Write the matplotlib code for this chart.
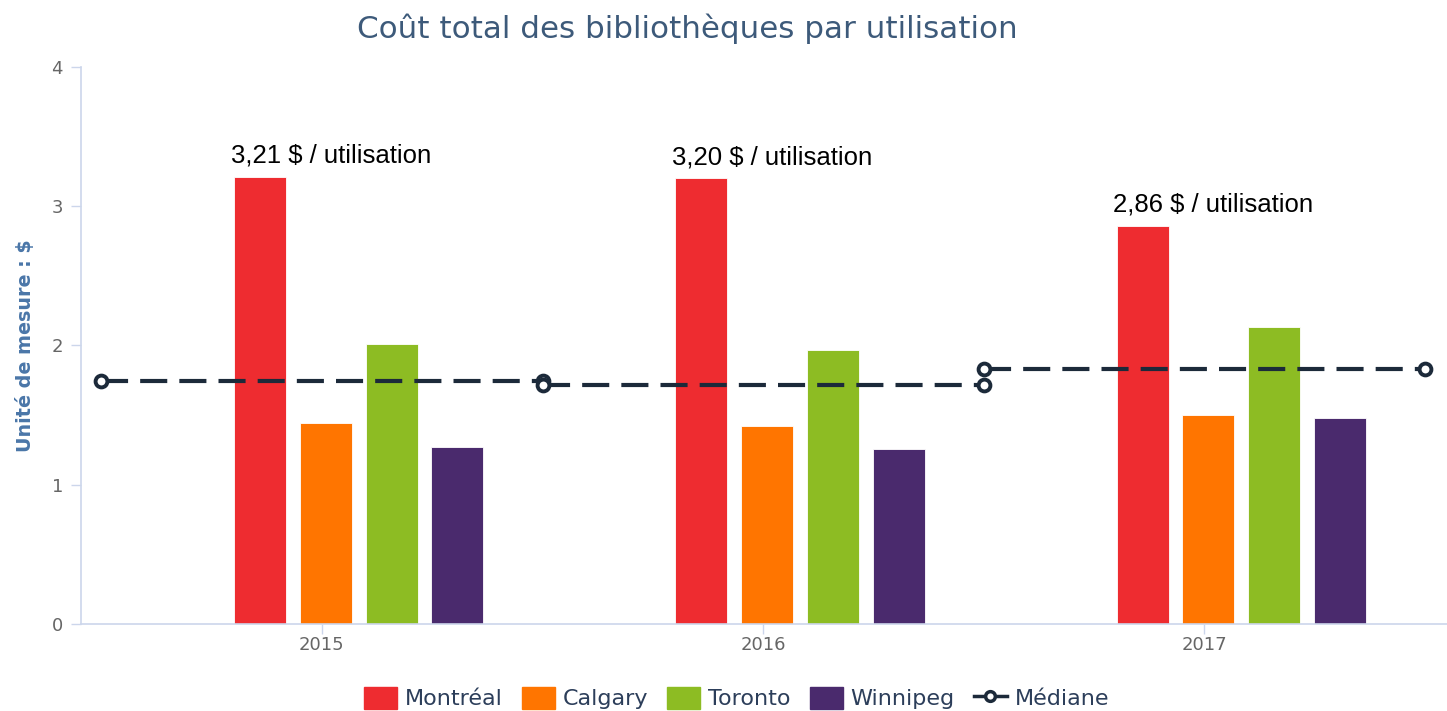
import numpy as np
import matplotlib.pyplot as plt
from matplotlib.lines import Line2D
from matplotlib.patches import Patch

plt.rcParams['font.family'] = ['DejaVu Sans']

# data
years = ['2015', '2016', '2017']
montreal = [3.21, 3.20, 2.86]
calgary = [1.44, 1.42, 1.50]
toronto = [2.01, 1.97, 2.13]
winnipeg = [1.27, 1.26, 1.48]
mediane = [1.745, 1.715, 1.83]
labels = ['3,21 $ / utilisation', '3,20 $ / utilisation', '2,86 $ / utilisation']

series = [('Montréal', montreal, '#ee2c30'),
          ('Calgary', calgary, '#ff7500'),
          ('Toronto', toronto, '#8dbc23'),
          ('Winnipeg', winnipeg, '#4a2a6d')]

fig = plt.figure(figsize=(14.47, 7.11), dpi=100)
ax = fig.add_axes([0.056, 0.1224, 0.944, 0.7834])

x = np.arange(len(years))
offsets = [-0.14, 0.009, 0.158, 0.307]
width = 0.118
for (name, vals, col), off in zip(series, offsets):
    ax.bar(x + off, vals, width, color=col, edgecolor='white', linewidth=0.6, zorder=2)

# median: one flat segment per category, edge to edge
for i, m in enumerate(mediane):
    ax.plot([i - 0.5, i + 0.5], [m, m], color='#1c2a3a', lw=3, ls=(0, (6.5, 2.9)),
            marker='o', ms=8.5, mfc='white', mec='#1c2a3a', mew=2.8, zorder=3)

# labels above the Montreal bars
for i, (v, t) in enumerate(zip(montreal, labels)):
    ax.text(i + 0.02, v + 0.065, t, ha='center', va='bottom', fontsize=18.5,
            family='Liberation Sans', color='black')

ax.set_xlim(-0.546, 2.55)
ax.set_ylim(0, 4)
ax.set_yticks([0, 1, 2, 3, 4])
ax.set_xticks(x)
ax.set_xticklabels(years)
ax.tick_params(axis='both', colors='#ccd6eb', labelcolor='#666666', labelsize=13)
ax.tick_params(axis='y', length=7, width=1, pad=6)
ax.tick_params(axis='x', length=7, width=1, pad=2)
for s in ['top', 'right']:
    ax.spines[s].set_visible(False)
ax.spines['left'].set_color('#ccd6eb')
ax.spines['bottom'].set_color('#ccd6eb')
ax.spines['left'].set_linewidth(1.2)
ax.spines['bottom'].set_linewidth(1.2)

ax.set_ylabel('Unité de mesure : $', color='#4a76a8', fontsize=13.8, fontweight='bold', labelpad=12)

fig.text(0.475, 0.96, 'Coût total des bibliothèques par utilisation', ha='center', va='center',
         fontsize=22.3, color='#3d5a7a')

handles = [Patch(facecolor=c, edgecolor=c, label=n) for n, _, c in series]
handles.append(Line2D([0], [0], color='#1c2a3a', lw=2.5, marker='o', ms=7, mfc='white',
                      mec='#1c2a3a', mew=2.5, label='Médiane'))
fig.legend(handles=handles, loc='center', bbox_to_anchor=(0.509, 0.018), ncol=5, frameon=False,
           fontsize=16, handlelength=1.5, handleheight=1.15, handletextpad=0.35,
           columnspacing=0.85, labelcolor='#2c3e5a')

fig.savefig('out.png')
